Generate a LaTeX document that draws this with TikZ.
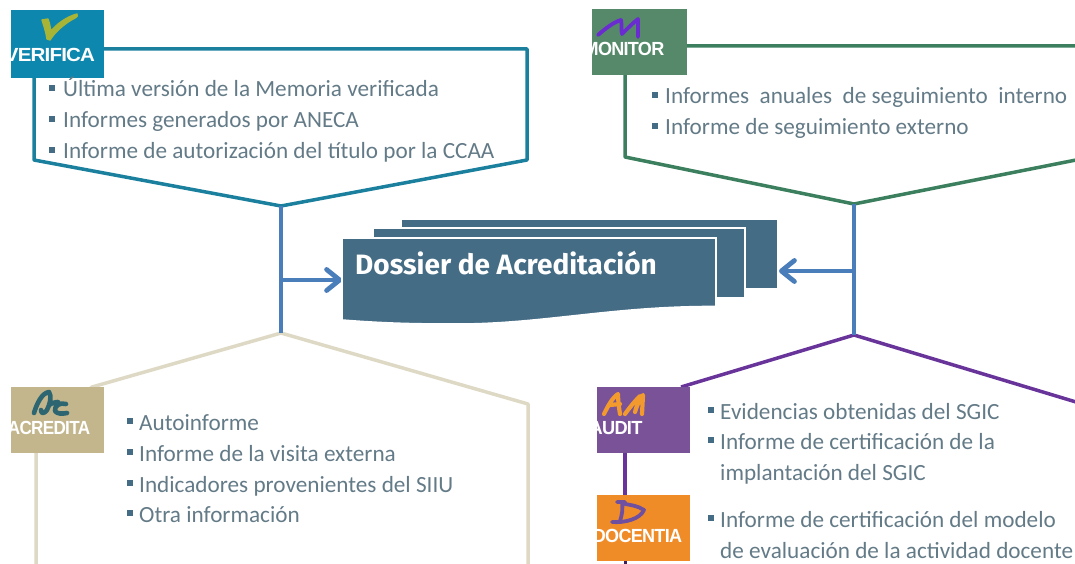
\documentclass[tikz,border=0pt]{standalone}
\usepackage{fontspec}
\setmainfont{Carlito}
\newfontfamily\labelfont{Liberation Sans}[LetterSpace=-4]
\newfontfamily\titlefont{Fira Sans}
\usetikzlibrary{arrows.meta}
\definecolor{vblue}{HTML}{0E87AE}
\definecolor{vline}{HTML}{1B7F9E}
\definecolor{mgreen}{HTML}{55896A}
\definecolor{mline}{HTML}{3B7F5E}
\definecolor{apurple}{HTML}{7A5298}
\definecolor{aline}{HTML}{68349A}
\definecolor{dorange}{HTML}{F08C28}
\definecolor{abox}{HTML}{C3B68D}
\definecolor{aborder}{HTML}{DDD9C4}
\definecolor{slate}{HTML}{446C85}
\definecolor{linkblue}{HTML}{4A7EBB}
\definecolor{bodytext}{HTML}{637A87}
\definecolor{check}{HTML}{A8B436}
\definecolor{logoteal}{HTML}{2D6670}
\definecolor{mmark}{HTML}{6A2BD0}
\definecolor{amark}{HTML}{F29A2E}
\definecolor{dmark}{HTML}{6F4FA0}
\tikzset{
  x=1pt,y=-1pt,
  logobox/.style={anchor=north west,inner sep=0pt,minimum width=#1},
  framev/.style={draw=vline,line width=3.5pt,line join=round},
  framem/.style={draw=mline,line width=3.5pt,line join=round},
  framep/.style={draw=aline,line width=3.5pt,line join=round},
  framea/.style={draw=aborder,line width=3.5pt,line join=round},
  linkline/.style={draw=linkblue,line width=4.2pt},
  linkarrow/.style={draw=linkblue,line width=4.8pt,-{Straight Barb[round,length=13pt,width=21pt]}},
  sheet/.style={fill=slate,draw=white,line width=1.6pt},
  logoname/.style={text=white,font=\labelfont\bfseries\fontsize{19}{20}\selectfont,inner sep=0pt,anchor=base,transform shape},
  item/.style={anchor=base west,inner sep=0pt,text=bodytext,font=\fontsize{23.2}{26}\selectfont},
  bull/.style={fill=slate,inner sep=0pt,minimum size=6.5pt},
}
\begin{document}
\begin{tikzpicture}
\useasboundingbox (0,0) rectangle (1075,564);
% coordinates
\coordinate (vTop) at (34,49); \coordinate (vTR) at (527,49); \coordinate (vBR) at (527,160);
\coordinate (vApex) at (281,206); \coordinate (vBL) at (34,160);
\coordinate (mTop) at (625,46); \coordinate (mTR) at (1076,46); \coordinate (mR) at (1076,160);
\coordinate (mApex) at (854,204); \coordinate (mBL) at (625,157);
\coordinate (aApex) at (281,333); \coordinate (aR) at (528,404); \coordinate (aRb) at (528,565);
\coordinate (aLb) at (36,565);
\coordinate (pApex) at (854,335); \coordinate (pR) at (1076,402);
\coordinate (dossierW) at (342,280); \coordinate (stackE) at (779,271);
\coordinate (vJoin) at (281,280); \coordinate (mJoin) at (854,271);
% frames
\draw[framev] (vTop) -- (vTR) -- (vBR) -- (vApex) -- (vBL) -- cycle;
\draw[framem] (mTR) -- (mTop) -- (mBL) -- (mApex) -- (mR);
\draw[framea] (aLb) -- (36,440) -- (92,387) -- (aApex) -- (aR) -- (aRb);
\draw[framep] (681,387) -- (pApex) -- (pR);
% links
\draw[linkline] (vApex) -- (aApex);
\draw[linkline] (mApex) -- (pApex);
\draw[linkarrow] (vJoin) -- (dossierW);
\draw[linkarrow] (mJoin) -- (stackE);
% dossier sheets
\fill[slate] (402,219.5) rectangle (777,288);
\draw[sheet] (373,228) rectangle (745,298);
\draw[sheet] (342,238) -- (716,238) -- (716,306.5) .. controls (610,306) and (540,325) .. (450,324) .. controls (410,324) and (380,323) .. (342,320) -- cycle;
\node[anchor=base west,inner sep=0pt,text=white,font=\titlefont\bfseries\fontsize{28}{32}\selectfont] (dossier) at (355,274) {Dossier de Acreditación};
% logo boxes
\node[logobox=93pt,minimum height=68pt,fill=vblue] (verifica) at (11,10) {};
\node[logobox=95pt,minimum height=66pt,fill=mgreen] (monitor) at (592,9) {};
\node[logobox=93pt,minimum height=66pt,fill=abox] (acredita) at (11,387) {};
\node[logobox=93pt,minimum height=66pt,fill=apurple] (audit) at (597,387) {};
\node[logobox=93pt,minimum height=66pt,fill=dorange] (docentia) at (597,495) {};
\coordinate (auditS) at (625,453); \coordinate (docN) at (625,495);
\coordinate (docS) at (625,561); \coordinate (pageB) at (625,565);
\draw[aline,line width=3.5pt] (auditS) -- (docN);
\draw[aline!60!black,line width=3pt] (docS) -- (pageB);
% logo marks and names
\begin{scope}
\clip (11,10) rectangle (104,78);
\filldraw[fill=check,draw=check,line width=1.4pt,line join=round] (42,20) -- (48,19) .. controls (50,24) and (50,28) .. (51,31) .. controls (57,24) and (66,17) .. (77,14) .. controls (78,16) and (77,17) .. (75,18) .. controls (65,23) and (55,32) .. (50,40) -- (47,39) .. controls (46,32) and (44,26) .. (42,20) -- cycle;
\node[logoname,xscale=1.08] (verificaT) at (50,62) {VERIFICA};
\end{scope}
\begin{scope}
\clip (592,9) rectangle (687,75);
\draw[line width=3.8pt,color=mmark,line cap=round,line join=round] (598,35) .. controls (606,28) and (614,22) .. (621,20) .. controls (622,25) and (621,30) .. (622,34) .. controls (628,28) and (633,23) .. (638,19) -- (638,37);
\node[logoname,xscale=.95] (monitorT) at (624,56) {MONITOR};
\end{scope}
\begin{scope}
\clip (11,387) rectangle (104,453);
\draw[logoteal,line width=4.6pt,line cap=round,line join=round] (34,413) .. controls (37,403) and (42,393) .. (49,392) .. controls (52,396) and (50,404) .. (47,410) .. controls (44,414) and (41,414) .. (41,410) (49,405) .. controls (52,403) and (56,402) .. (58,402) (66,404) .. controls (60,402) and (54,406) .. (55,411) .. controls (57,414) and (62,414) .. (67,413);
\node[logoname,xscale=.9] (acreditaT) at (49,434) {ACREDITA};
\end{scope}
\begin{scope}
\clip (597,387) rectangle (690,453);
\draw[amark,line width=4.2pt,line cap=round,line join=round] (604,414) .. controls (608,406) and (612,398) .. (618,394) .. controls (618,401) and (619,408) .. (620,414) (610,405) -- (620,404) (625,414) .. controls (630,407) and (635,401) .. (640,396) .. controls (639,402) and (636,407) .. (635,412) .. controls (637,405) and (640,399) .. (643,395) -- (642,414);
\node[logoname,xscale=.96] (auditT) at (616,434) {AUDIT};
\end{scope}
\begin{scope}
\clip (597,495) rectangle (690,561);
\draw[dmark,line width=3.8pt,line cap=round,line join=round] (617,502) -- (625,502) (622,502) .. controls (623,509) and (622,515) .. (620,521) (612,522) .. controls (625,523) and (640,519) .. (644,510) .. controls (638,506) and (631,505) .. (625,504);
\node[logoname,xscale=.95] (docentiaT) at (637.5,542) {DOCENTIA};
\end{scope}
% verifica list
\node[bull] (b1) at (52,88) {}; \node[item] (t1) at (63,97) {Última versión de la Memoria verificada};
\node[bull] (b2) at (52,119) {}; \node[item] (t2) at (63,128) {Informes generados por ANECA};
\node[bull] (b3) at (52,150) {}; \node[item] (t3) at (63,159) {Informe de autorización del título por la CCAA};
% monitor list
\node[bull] (b4) at (655,95) {}; \node[item] (t4) at (665,104) {Informes\ \ anuales\ \ de seguimiento\ \ interno};
\node[bull] (b5) at (655,126) {}; \node[item] (t5) at (665,135) {Informe de seguimiento externo};
% acredita list
\node[bull] (b6) at (130,421) {}; \node[item] (t6) at (139,430) {Autoinforme};
\node[bull] (b7) at (130,452) {}; \node[item] (t7) at (139,461) {Informe de la visita externa};
\node[bull] (b8) at (130,483) {}; \node[item] (t8) at (139,492) {Indicadores provenientes del SIIU};
\node[bull] (b9) at (130,513) {}; \node[item] (t9) at (139,522) {Otra información};
% audit list
\node[bull] (b10) at (711,410) {}; \node[item] (t10) at (720,419) {Evidencias obtenidas del SGIC};
\node[bull] (b11) at (711,440) {}; \node[item] (t11) at (720,449) {Informe de certificación de la};
\node[item] (t12) at (720,480) {implantación del SGIC};
\node[bull] (b12) at (711,518) {}; \node[item] (t13) at (720,527) {Informe de certificación del modelo};
\node[item] (t14) at (720,558) {de evaluación de la actividad docente};
\end{tikzpicture}
\end{document}
